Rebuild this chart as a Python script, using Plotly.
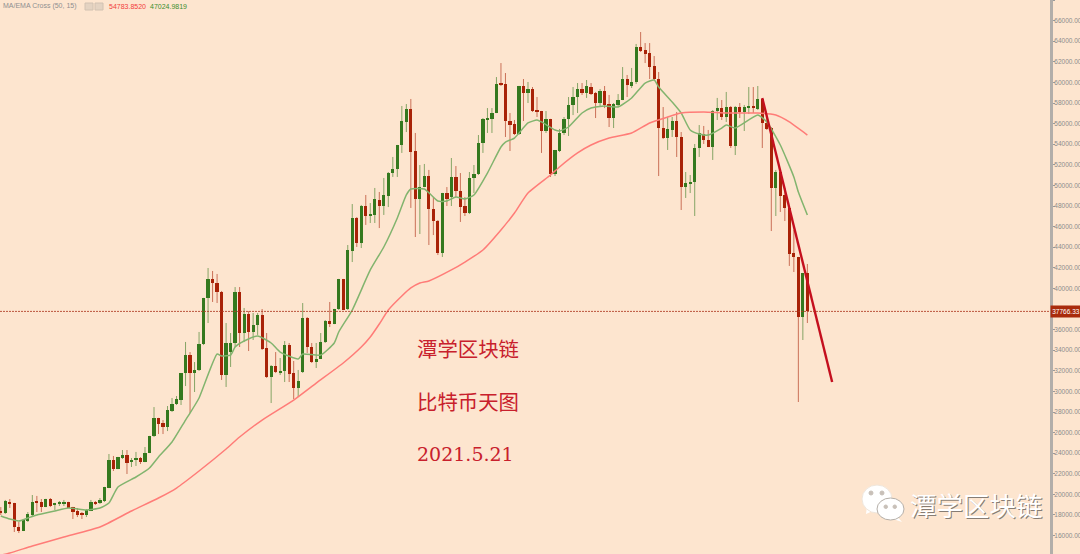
import plotly.graph_objects as go

W, H, PLOT_W = 1080, 554, 1050
BG = "#FDE5CF"

candles = [
(18390,18770,18000,18190),(18190,19460,18100,19360),(19260,19550,18680,19070),(19160,19180,16350,16830),
(16830,17320,16250,16450),(16450,17610,16440,17510),(17420,18290,17320,18100),(18000,19940,17900,19260),
(19360,19850,18290,19160),(19260,19550,18290,18770),(18770,19570,18760,19550),(19550,19650,18770,18870),
(18970,19180,18480,19160),(19120,19360,18870,19160),(19070,19460,18870,19260),(19260,19280,18670,18680),
(18770,18790,17610,18290),(18390,18680,17800,18000),(18190,18290,17610,18000),(18000,18580,17800,18480),
(18390,19460,18380,19260),(19260,19360,18970,19160),(19160,19650,19070,19460),(19360,20730,19260,20720),
(20620,23920,20610,23340),(23340,23730,22270,22460),(22460,23640,22450,23630),(23530,24310,23440,23820),
(23820,24310,21980,23050),(23140,23530,22660,23340),(23340,24120,22760,23440),(23530,23630,22950,23140),
(23140,24600,23130,24020),(24020,25680,24010,25670),(25670,28480,25570,27420),(27420,27430,25860,26830),
(26930,27220,25860,26540),(26540,28580,26150,28190),(28100,29360,28000,28780),(28780,29550,28680,29260),
(29160,31790,28680,31780),(31780,34800,30520,33530),(33530,33820,27900,31780),(31780,32850,29940,32080),
(32080,35770,31980,34600),(34600,39080,34500,39070),(39070,41980,36640,40910),(40910,41690,38680,40520),
(40520,41400,38580,39650),(39650,39750,31110,31590),(31590,36640,30430,34700),(33820,35670,32370,34700),
(34700,40130,34310,39650),(39650,40130,34310,35670),(35670,38100,34790,37510),(37510,37800,33920,35770),
(35770,37610,34990,36450),(36450,37610,35480,37420),(37420,38000,34020,34120),(34210,35670,31300,31400),
(31400,32560,28870,32470),(32470,33820,31780,31880),(31880,33240,31590,31980),(31980,34890,30910,34500),
(34500,34700,30910,31690),(31790,32950,29260,30330),(30330,32080,29450,31010),(31880,38580,31790,37130),
(37130,37220,33730,34310),(34310,34700,32760,32850),(32850,34700,32270,33150),(33150,35670,33140,34790),
(34790,36930,34700,36830),(36830,38680,36250,36540),(36540,38010,36530,38000),(38000,40920,37900,40910),
(40910,40920,37900,37900),(38000,44210,37900,43730),(43630,48190,42560,46840),(46840,46930,44020,44410),
(44410,48100,43920,48000),(48000,49070,46160,47030),(47030,48290,46350,47220),(47130,49750,46350,48680),
(48580,49360,45860,48000),(48000,50720,47130,49070),(48970,51300,47900,51200),(51200,52760,50820,51590),
(51590,53930,50820,53920),(53920,57710,53150,56250),(56160,57900,55180,57420),(57420,58390,47810,53240),
(53340,55090,44990,48680),(48680,51980,45280,49840),(49840,52080,49830,50910),(50910,51500,44210,47710),
(47710,48870,45180,46540),(46540,46640,43240,43440),(43440,49270,43050,49260),(49260,49840,48000,48680),
(48870,52660,48000,50820),(50820,51880,48870,49460),(49460,51200,46450,47900),(48000,48870,47030,47320),
(47320,51300,47220,50720),(50720,51980,49260,51110),(51110,54890,51010,54120),(54120,56540,53150,56450),
(56440,57510,55090,56450),(56450,57510,55090,57030),(57030,60520,57020,59850),(59850,61880,59650,59750),
(59850,60910,54700,56250),(56250,57030,53340,55860),(55960,56350,54890,54990),(54990,59660,54890,59650),
(59650,60330,56250,58970),(58970,60040,58000,59360),(59360,59550,57130,57220),(57220,58580,56640,57130),
(57220,57230,53150,55280),(55280,57220,55090,56450),(56450,56460,50820,51110),(51110,53440,50910,53440),
(53340,55480,53240,55090),(55090,56640,54890,56450),(56450,58580,54800,57810),(57810,59550,56830,58580),
(58580,59940,57030,59360),(59360,59940,58780,58970),(58970,60230,58490,59650),(59550,59940,58780,58870),
(58970,59070,56540,58000),(58000,59360,57610,59160),(59160,59650,57510,57810),(57900,58780,55670,56540),
(56540,58000,55570,57900),(57810,58870,57610,58290),(58290,61490,58280,60330),(60330,60720,58580,59750),
(59650,61400,59460,60040),(60040,63730,59850,63440),(63440,64890,62950,63050),(63150,63820,61880,62760),
(62850,63820,60330,61500),(61590,62560,60230,60330),(60330,61010,50910,55570),(55570,57610,54500,54600),
(54600,56640,53440,55480),(55380,56640,54700,56250),(56250,57130,52760,54700),(54700,55180,47610,49840),
(49840,51300,48780,50230),(50230,51010,49260,50330),(50330,54020,47030,53630),(53630,55860,52760,55090),
(54990,55770,54020,54410),(54410,55380,53720,53730),(53730,57320,52470,57220),(57220,58490,56350,57510),
(57510,58290,56350,56640),(56640,59070,56160,57610),(57610,57710,53630,53820),(53820,57710,52950,57610),
(57610,58000,56540,57130),(57130,57810,55280,57610),(57510,59550,56930,57710),(57710,59550,57030,57510),
(57420,59650,57320,58390),(58390,58400,53630,56060),(56060,57030,55380,55480),(55570,55670,45570,49750),
(49750,51500,47030,51300),(51300,51500,47420,48970),(49070,49750,46540,47810),(47810,47900,42180,43340),
(43440,45670,41590,43050),(43050,43060,28970,37220),(37220,41500,34990,41490),(41490,42370,36640,37800),
]
opens = [c[0] for c in candles]
highs = [c[1] for c in candles]
lows = [c[2] for c in candles]
closes = [c[3] for c in candles]
index = list(range(len(candles)))

ema_idx = [0,2,4,6,8,12,15,19,22,24,26,30,33,35,38,41,42,44,48,49,51,52,54,57,60,62,66,67,71,74,75,78,82,85,88,90,91,94,97,99,101,103,105,108,111,112,114,117,119,120,123,124,126,129,131,134,137,140,143,145,146,149,151,153,155,157,160,161,163,168,170,173,176,177,179]
ema_val = [17900,17610,17420,17710,18000,18390,18680,18480,18680,19160,20720,21690,22560,23630,25090,27220,27900,29360,33630,33440,33530,34310,34890,35380,34700,33820,33150,33630,33530,34700,35770,37900,41790,44020,46840,49070,49650,49650,48480,48480,48870,48680,49070,51200,53730,54210,54600,56060,56350,56160,55380,55280,55670,57030,57510,57710,57610,58490,59940,60230,59550,58100,57030,55380,54990,54890,55570,55860,55570,56830,56160,53920,50820,49360,47130]
ma_idx = [0,2,7,14,22,29,35,39,44,50,53,58,65,70,76,80,82,84,86,89,91,93,95,100,103,107,111,114,117,122,124,128,131,135,140,144,148,151,156,161,168,172,175,179]
ma_val = [14100,14310,14990,15860,16830,18390,19650,20620,22270,24410,25570,27220,29160,30810,32760,34310,35280,36540,37900,39260,40040,40520,40720,41790,42560,43730,45670,47320,49260,51010,51790,53150,53920,54600,55090,56060,56640,57030,57130,57030,57030,56830,56160,54890]
trend_idx = [169, 184.5]
trend_val = [58490, 30910]
y_ticks = [v for v in range(16000, 68001, 2000) if v != 38000]
last_price = 37766.33

RED, GREEN = "#A92308", "#35791F"


def wick(rising):
    xs, ys = [], []
    for i, o, h, l, c in zip(index, opens, highs, lows, closes):
        if (c >= o) == rising:
            xs += [i, i, None]
            ys += [l, h, None]
    return xs, ys


def px(x):
    return x / PLOT_W


def py(y):
    return 1 - y / H


fig = go.Figure()
for rising, col in ((True, "rgba(53,121,31,.6)"), (False, "rgba(169,35,8,.6)")):
    xs, ys = wick(rising)
    fig.add_trace(go.Scatter(x=xs, y=ys, mode="lines", line=dict(color=col, width=1), hoverinfo="skip"))
fig.add_trace(go.Bar(
    x=index,
    base=[min(o, c) for o, c in zip(opens, closes)],
    y=[max(abs(o - c), 110) for o, c in zip(opens, closes)],
    width=0.72,
    marker=dict(color=[GREEN if c >= o else RED for o, c in zip(opens, closes)], line=dict(width=0)),
))
fig.add_trace(go.Scatter(x=ema_idx, y=ema_val, mode="lines", line=dict(color="#82B46E", width=1.5, shape="spline", smoothing=0.5)))
fig.add_trace(go.Scatter(x=ma_idx, y=ma_val, mode="lines", line=dict(color="#FF7C78", width=1.5, shape="spline", smoothing=0.5)))
fig.add_trace(go.Scatter(x=trend_idx, y=trend_val, mode="lines", line=dict(color="#C40F1E", width=2.4)))

shapes = [
    dict(type="line", xref="paper", x0=0, x1=1, yref="y", y0=last_price, y1=last_price,
         line=dict(color="rgba(175,60,35,.85)", width=1, dash="2px,1px")),
    dict(type="rect", xref="paper", yref="paper", x0=px(85), x1=px(93), y0=py(10), y1=py(3),
         fillcolor="#E4D3C2", line=dict(color="#D2C2B2", width=1)),
    dict(type="rect", xref="paper", yref="paper", x0=px(95), x1=px(103), y0=py(10), y1=py(3),
         fillcolor="#E4D3C2", line=dict(color="#D2C2B2", width=1)),
]


def blob(x0, x1, y0, y1, fill, line):
    return dict(type="circle", xref="paper", yref="paper", x0=px(x0), x1=px(x1), y0=py(y1), y1=py(y0),
                fillcolor=fill, line=dict(color=line, width=1))


def tail(points, fill):
    path = "M " + " L ".join(f"{px(a):.5f},{py(b):.5f}" for a, b in points) + " Z"
    return dict(type="path", xref="paper", yref="paper", path=path, fillcolor=fill, line=dict(width=0))


shapes += [
    tail([(867, 506), (866, 514), (875, 510)], "#FFFFFF"),
    blob(862, 892, 485, 513, "#FFFFFF", "#EFE6DC"),
    tail([(895, 514), (902, 522), (890, 518)], "#FFFFFF"),
    blob(877, 904, 498, 520, "#FFFFFF", "#B5AFA8"),
    blob(869, 873, 491, 495, "#C8C0B8", "#C8C0B8"),
    blob(880, 884, 491, 495, "#C8C0B8", "#C8C0B8"),
    blob(884, 887.5, 505, 508.5, "#C8C0B8", "#C8C0B8"),
    blob(893, 896.5, 505, 508.5, "#C8C0B8", "#C8C0B8"),
]


def label(text, x, y, size, color, family, **kw):
    return dict(text=text, x=px(x), y=py(y), xref="paper", yref="paper", xanchor="left", yanchor="middle",
                showarrow=False, borderpad=0, font=dict(size=size, color=color, family=family), **kw)


CJK = "Noto Sans CJK SC"
SANS = "Liberation Sans"
annotations = [
    label("MA/EMA Cross (50, 15)", 2, 6, 7, "#8F8F8F", SANS),
    label("54783.8520", 108, 6, 7, "#F2403C", SANS),
    label("47024.9819", 149, 6, 7, "#3E8E2E", SANS),
    label("潭学区块链", 416, 348, 20.4, "#C8202C", CJK),
    label("比特币天图", 416, 401, 20.4, "#C8202C", CJK),
    label("2021.5.21", 416, 454, 19, "#C8202C", "DejaVu Serif"),
    label("潭学区块链", 910, 505, 26.5, "rgba(95,90,85,.75)", CJK),
    label("潭学区块链", 909, 504, 26.5, "#FFFFFF", CJK),
    dict(text="37766.33", x=1, xref="paper", y=last_price, yref="y", xanchor="left", yanchor="middle",
         showarrow=False, bgcolor="#A92B0C", width=30, height=11, align="center", borderpad=0,
         font=dict(size=6.5, color="#FFFFFF", family=SANS)),
]

fig.update_layout(
    width=W, height=H, showlegend=False, bargap=0, barmode="overlay",
    margin=dict(l=0, r=W - PLOT_W, t=0, b=0, pad=0),
    paper_bgcolor=BG, plot_bgcolor=BG,
    shapes=shapes, annotations=annotations,
    xaxis=dict(range=[-0.1775, 232.85], visible=False, fixedrange=True),
    yaxis=dict(range=[14213, 68000], side="right", tickvals=y_ticks, tickformat=".2f", showgrid=False,
               zeroline=False, showline=True, linecolor="#B2AEAA", linewidth=3, ticks="outside", ticklen=2,
               tickcolor="#9A9A9A", tickwidth=1, automargin=False, ticklabelstandoff=-2,
               tickfont=dict(size=6.5, color="#8C8C8C", family=SANS)),
)
fig.write_html("out.html", config=dict(displayModeBar=False),
               post_script="document.body.style.margin='0';document.documentElement.style.overflow='hidden';")
